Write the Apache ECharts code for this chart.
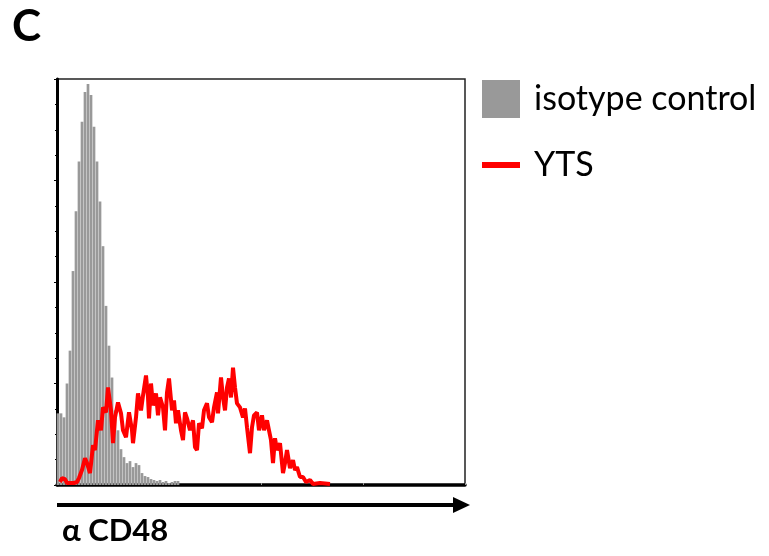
<!DOCTYPE html>
<html>
<head>
<meta charset="utf-8">
<script src="https://cdn.jsdelivr.net/npm/echarts@6/dist/echarts.min.js"></script>
<style>
  html, body { margin: 0; padding: 0; background: #fff; }
  #chart { width: 769px; height: 556px; }
</style>
</head>
<body>
<div id="chart"></div>
<script>
// channel (x) and event count (y)
const isotypeX = [1, 4, 7, 10, 13, 16, 19, 22, 25, 28, 31, 34, 37, 40, 43, 46, 49, 52, 55, 58,
  61, 64, 67, 70, 73, 76, 79, 82, 85, 88, 91, 94, 97, 100, 103, 106, 109, 112, 115, 118, 121]
const isotypeY = [72, 72, 68, 102, 135, 215, 275, 325, 365, 395, 403, 392, 360, 325, 285, 240, 180, 140, 108, 75,
  55, 36, 28, 22, 24, 18, 22, 20, 12, 9, 8, 6, 5, 4, 5, 3, 4, 2, 3, 4, 4]

const ytsX = [3, 5, 8, 10, 13, 17, 20, 22, 25, 28, 30, 33, 36, 38, 41, 44, 46, 49, 51, 54,
  56, 58, 61, 64, 66, 69, 72, 75, 76, 79, 81, 84, 86, 89, 91, 92, 94, 96, 99, 101,
  103, 106, 108, 110, 112, 115, 117, 119, 121, 124, 126, 128, 130, 133, 136, 138, 140, 142, 145, 147,
  150, 152, 155, 157, 160, 161, 164, 166, 168, 170, 172, 174, 176, 178, 180, 183, 186, 188, 190, 193,
  195, 197, 200, 202, 205, 207, 210, 212, 214, 216, 218, 220, 223, 226, 228, 230, 233, 236, 238, 240,
  243, 246, 249, 253, 256, 263, 273]
const ytsY = [3, 7, 6, 2, 2, 2, 3, 7, 15, 27, 22, 12, 40, 35, 65, 55, 78, 73, 98, 75,
  42, 68, 83, 72, 55, 48, 73, 55, 42, 68, 92, 75, 90, 110, 88, 67, 102, 80, 92, 70,
  88, 78, 55, 93, 107, 75, 85, 62, 75, 55, 45, 73, 67, 55, 65, 38, 35, 62, 57, 75,
  82, 68, 63, 78, 93, 72, 108, 88, 75, 98, 107, 88, 118, 98, 82, 78, 68, 77, 58, 32,
  58, 70, 73, 55, 70, 55, 65, 55, 45, 22, 47, 35, 42, 12, 22, 35, 17, 25, 15, 18,
  8, 8, 3, 5, 1, 2, 1]

const chart = echarts.init(document.getElementById('chart'))
const font = 'Lato, "Liberation Sans", sans-serif'

const option = {
  animation: false,
  grid: {
    left: 57,
    top: 79,
    width: 408,
    height: 406,
    show: true,
    borderColor: '#222',
    borderWidth: 1.5
  },
  legend: [
    {
      left: 482,
      top: 80,
      padding: 0,
      itemWidth: 38,
      itemHeight: 38,
      data: [{ name: 'isotype control', icon: 'rect' }],
      textStyle: { fontFamily: font, fontSize: 34, color: '#000', padding: [0, 0, 0, 9] }
    },
    {
      left: 482,
      top: 146,
      padding: 0,
      itemWidth: 38,
      itemHeight: 6,
      data: [{ name: 'YTS', icon: 'rect' }],
      textStyle: { fontFamily: font, fontSize: 34, color: '#000', lineHeight: 38, padding: [0, 0, 0, 9] }
    }
  ],
  xAxis: {
    type: 'value',
    min: 0,
    max: 408,
    interval: 102,
    axisLine: { lineStyle: { color: '#000', width: 3.5 } },
    axisTick: { inside: true, length: 2, lineStyle: { color: '#999' } },
    axisLabel: { show: false },
    splitLine: { show: false }
  },
  yAxis: {
    type: 'value',
    min: 0,
    max: 408,
    interval: 102,
    axisLine: { show: true, lineStyle: { color: '#000', width: 3 } },
    axisTick: { show: true, length: 3, lineStyle: { color: '#000' } },
    minorTick: { show: true, splitNumber: 4, length: 2, lineStyle: { color: '#000' } },
    axisLabel: { show: false },
    splitLine: { show: false }
  },
  graphic: [
    {
      type: 'text', left: 12, top: 5,
      style: { text: 'C', font: 'bold 44px ' + font, fill: '#000' }
    },
    {
      type: 'line',
      shape: { x1: 57, y1: 505, x2: 456, y2: 505 },
      style: { stroke: '#000', lineWidth: 4 }
    },
    {
      type: 'polygon',
      shape: { points: [[453, 497], [470, 505], [453, 513]] },
      style: { fill: '#000' }
    },
    {
      type: 'text', left: 62, top: 515,
      style: { text: 'α CD48', font: 'bold 31px ' + font, fill: '#000' }
    }
  ],
  series: [
    {
      name: 'isotype control',
      type: 'bar',
      barWidth: 2.7,
      itemStyle: { color: '#999999' },
      data: isotypeX.map((x, i) => [x, isotypeY[i]])
    },
    {
      name: 'YTS',
      type: 'line',
      showSymbol: false,
      z: 3,
      itemStyle: { color: '#ff0000' },
      lineStyle: { color: '#ff0000', width: 4 },
      data: ytsX.map((x, i) => [x, ytsY[i]])
    }
  ]
}
chart.setOption(option)
</script>
</body>
</html>
